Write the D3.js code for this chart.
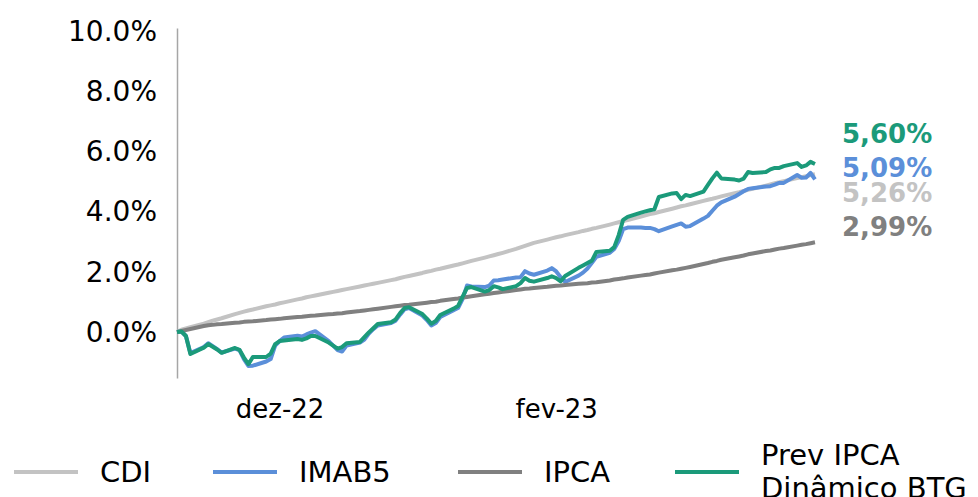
<!DOCTYPE html>
<html>
<head>
<meta charset="utf-8">
<script src="https://cdn.jsdelivr.net/npm/d3@7"></script>
<style>
  body { margin: 0; background: #fff; }
  text { font-family: "DejaVu Sans", Verdana, sans-serif; }
</style>
</head>
<body>
<div id="chart"></div>
<script>
const w = 978;
const h = 497;

// trading days from 08/11/2022 to 31/03/2023
const startDate = new Date(2022, 10, 8);
const endDate = new Date(2023, 2, 31);
const dates = d3.timeDay.range(startDate, d3.timeDay.offset(endDate, 1))
  .filter((d) => d.getDay() !== 0 && d.getDay() !== 6);

const monthNames = ["jan", "fev", "mar", "abr", "mai", "jun", "jul", "ago", "set", "out", "nov", "dez"];
const xTicks = [new Date(2022, 11, 1), new Date(2023, 1, 1)];
const yTicks = [0, 2, 4, 6, 8, 10];

const seriesNames = ["CDI", "IMAB5", "IPCA", "Prev IPCA Dinâmico BTG"];
const seriesColors = ["#c3c3c3", "#5b8fd9", "#808080", "#1b9a7a"];
const endLabels = ["5,26%", "5,09%", "2,99%", "5,60%"];

const cdi = [0.00, 0.08, 0.12, 0.16, 0.28, 0.33, 0.38, 0.42, 0.46, 0.60, 0.64, 0.68, 0.72, 0.75, 0.86, 0.89, 0.92, 0.96, 0.99, 1.09,
  1.12, 1.16, 1.19, 1.22, 1.31, 1.34, 1.37, 1.40, 1.43, 1.52, 1.55, 1.58, 1.61, 1.64, 1.73, 1.76, 1.80, 1.84, 1.87, 1.97,
  2.01, 2.04, 2.08, 2.11, 2.22, 2.25, 2.29, 2.33, 2.37, 2.48, 2.52, 2.56, 2.60, 2.64, 2.77, 2.82, 2.87, 2.92, 2.97, 3.08,
  3.12, 3.16, 3.19, 3.23, 3.33, 3.37, 3.40, 3.44, 3.47, 3.58, 3.62, 3.66, 3.70, 3.73, 3.85, 3.89, 3.93, 3.96, 4.00, 4.11,
  4.15, 4.19, 4.22, 4.26, 4.37, 4.41, 4.44, 4.48, 4.52, 4.63, 4.66, 4.70, 4.74, 4.77, 4.88, 4.92, 4.96, 4.99, 5.03, 5.13,
  5.16, 5.19, 5.23, 5.26];

const imab5 = [0.00, 0.02, -0.13, -0.70, -0.50, -0.37, -0.47, -0.57, -0.68, -0.55, -0.60, -0.90, -1.13, -1.12, -0.98, -0.90, -0.45, -0.30, -0.18, -0.12,
  -0.15, -0.08, -0.02, 0.03, -0.30, -0.45, -0.60, -0.65, -0.45, -0.35, -0.25, -0.05, 0.10, 0.22, 0.30, 0.38, 0.58, 0.76, 0.80, 0.55,
  0.40, 0.22, 0.30, 0.50, 0.73, 0.80, 1.10, 1.55, 1.52, 1.50, 1.55, 1.72, 1.73, 1.75, 1.82, 1.83, 2.03, 1.95, 1.91, 2.05,
  2.13, 2.02, 1.83, 1.67, 1.88, 1.98, 2.12, 2.31, 2.51, 2.64, 2.77, 3.03, 3.43, 3.48, 3.48, 3.47, 3.47, 3.43, 3.36, 3.52,
  3.57, 3.62, 3.51, 3.53, 3.78, 3.87, 4.04, 4.21, 4.32, 4.51, 4.60, 4.69, 4.77, 4.79, 4.85, 4.86, 4.91, 4.97, 4.97, 5.23,
  5.14, 5.15, 5.30, 5.09];

const ipca = [0.00, 0.04, 0.07, 0.10, 0.20, 0.23, 0.24, 0.26, 0.27, 0.31, 0.32, 0.34, 0.35, 0.36, 0.40, 0.42, 0.43, 0.44, 0.46, 0.50,
  0.51, 0.53, 0.54, 0.55, 0.59, 0.60, 0.62, 0.63, 0.65, 0.70, 0.72, 0.74, 0.76, 0.78, 0.84, 0.86, 0.88, 0.90, 0.91, 0.96,
  0.98, 1.00, 1.01, 1.04, 1.10, 1.12, 1.15, 1.17, 1.19, 1.26, 1.28, 1.30, 1.32, 1.34, 1.40, 1.42, 1.44, 1.45, 1.47, 1.51,
  1.53, 1.54, 1.55, 1.57, 1.61, 1.62, 1.63, 1.65, 1.66, 1.72, 1.75, 1.77, 1.79, 1.82, 1.88, 1.90, 1.92, 1.95, 1.98, 2.06,
  2.08, 2.11, 2.14, 2.17, 2.27, 2.30, 2.34, 2.37, 2.41, 2.49, 2.52, 2.55, 2.59, 2.62, 2.70, 2.72, 2.75, 2.78, 2.80, 2.88,
  2.91, 2.93, 2.96, 2.99];

const prevIpca = [0.00, 0.02, -0.13, -0.73, -0.52, -0.40, -0.49, -0.58, -0.69, -0.53, -0.59, -0.85, -1.07, -0.83, -0.83, -0.72, -0.40, -0.30, -0.28, -0.23,
  -0.26, -0.21, -0.13, -0.13, -0.35, -0.45, -0.55, -0.50, -0.37, -0.33, -0.17, -0.01, 0.13, 0.27, 0.33, 0.42, 0.63, 0.80, 0.83, 0.60,
  0.45, 0.28, 0.37, 0.57, 0.78, 0.87, 1.17, 1.47, 1.50, 1.35, 1.40, 1.53, 1.49, 1.43, 1.53, 1.63, 1.80, 1.71, 1.68, 1.80,
  1.86, 1.80, 1.69, 1.87, 2.14, 2.22, 2.30, 2.38, 2.67, 2.71, 2.83, 3.23, 3.74, 3.84, 3.98, 4.02, 4.06, 4.09, 4.50, 4.62,
  4.63, 4.43, 4.57, 4.53, 4.68, 4.90, 5.12, 5.31, 5.12, 5.08, 5.05, 5.11, 5.33, 5.30, 5.33, 5.42, 5.47, 5.47, 5.53, 5.63,
  5.50, 5.55, 5.67, 5.60];

const seriesValues = [cdi, imab5, ipca, prevIpca];

// layout
const margin = { left: 177, right: 163, top: 28, bottom: 119 };
const labelDy = [18, -12, -16, -30]; // shift of end labels so they do not overlap
const legendX = [14, 213, 458, 675];

const svg = d3.select("#chart").append("svg")
  .attr("width", w)
  .attr("height", h);

const x = d3.scaleTime()
  .domain([startDate, endDate])
  .range([margin.left, w - margin.right]);

const y = d3.scaleLinear()
  .domain([-1.53, 10.13])
  .range([h - margin.bottom, margin.top]);

// y axis
const yAxis = svg.append("g")
  .attr("transform", `translate(${margin.left},0)`)
  .call(d3.axisLeft(y).tickValues(yTicks).tickSize(0).tickPadding(20)
    .tickFormat((d) => d3.format(".1f")(d) + "%"));
yAxis.select(".domain").attr("stroke", "#a6a6a6").attr("stroke-width", 1.5);
yAxis.selectAll("text")
  .style("font-family", "'DejaVu Sans', sans-serif")
  .style("font-size", "28px")
  .attr("fill", "#000");

// x axis labels only
const xAxis = svg.append("g")
  .attr("transform", `translate(0,${h - margin.bottom})`)
  .call(d3.axisBottom(x).tickValues(xTicks).tickSize(0).tickPadding(22)
    .tickFormat((d) => monthNames[d.getMonth()] + "-" + String(d.getFullYear()).slice(2)));
xAxis.select(".domain").remove();
xAxis.selectAll("text")
  .style("font-family", "'DejaVu Sans', sans-serif")
  .style("font-size", "26px")
  .attr("fill", "#000");

// lines
const line = d3.line()
  .x((d, i) => x(dates[i]))
  .y((d) => y(d));

svg.append("g").selectAll("path")
  .data(seriesValues)
  .enter()
  .append("path")
  .attr("d", (d) => line(d))
  .attr("fill", "none")
  .attr("stroke", (d, i) => seriesColors[i])
  .attr("stroke-width", 4)
  .attr("stroke-linejoin", "round");

// end labels
svg.append("g").selectAll("text")
  .data(seriesValues)
  .enter()
  .append("text")
  .attr("x", x(endDate) + 27)
  .attr("y", (d, i) => y(d[d.length - 1]) + labelDy[i])
  .attr("dy", "0.36em")
  .style("font-family", "'DejaVu Sans', sans-serif")
  .style("font-weight", "bold")
  .style("font-size", "26px")
  .attr("fill", (d, i) => seriesColors[i])
  .text((d, i) => endLabels[i]);

// legend
const legend = svg.append("g").selectAll("g")
  .data(seriesNames)
  .enter()
  .append("g")
  .attr("transform", (d, i) => `translate(${legendX[i]},472)`);

legend.append("line")
  .attr("x1", 0)
  .attr("x2", 64)
  .attr("stroke", (d, i) => seriesColors[i])
  .attr("stroke-width", 4);

legend.append("text")
  .attr("x", 86)
  .style("font-family", "'DejaVu Sans', sans-serif")
  .style("font-size", "29px")
  .attr("fill", "#000")
  .each(function (d) {
    const parts = d.length > 10 ? ["Prev IPCA", "Dinâmico BTG"] : [d];
    const t = d3.select(this);
    parts.forEach((p, k) => {
      t.append("tspan")
        .attr("x", 86)
        .attr("dy", parts.length === 1 ? "0.36em" : (k === 0 ? "-0.24em" : "1.12em"))
        .text(p);
    });
  });
</script>
</body>
</html>
